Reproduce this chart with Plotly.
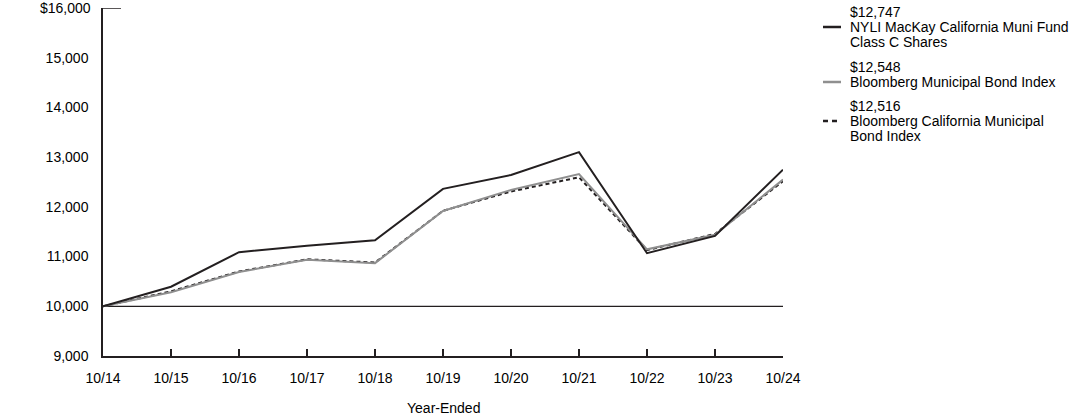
import plotly.graph_objects as go

years = ["10/14", "10/15", "10/16", "10/17", "10/18", "10/19", "10/20", "10/21", "10/22", "10/23", "10/24"]
fund = [10000, 10394, 11088, 11219, 11328, 12362, 12641, 13100, 11068, 11416, 12747]
muni = [10000, 10281, 10690, 10935, 10868, 11917, 12339, 12661, 11146, 11440, 12548]
calif = [10000, 10300, 10700, 10945, 10880, 11920, 12310, 12595, 11130, 11455, 12516]

names = [["NYLI MacKay California Muni Fund", "Class C Shares"],
         ["Bloomberg Municipal Bond Index"],
         ["Bloomberg California Municipal", "Bond Index"]]
colors = ["#231f20", "#8f8f8f", "#231f20"]
dashes = ["solid", "solid", "4px,3px"]
series = [fund, muni, calif]

yticks = [9000, 10000, 11000, 12000, 13000, 14000, 15000]
ytext = ["9,000", "10,000", "11,000", "12,000", "13,000", "14,000", "15,000"]
ytop_val, ytop_text = 16000, "$16,000"

W, H = 1092, 417
L, R, T, B = 103, 309, 8, 61
PW, PH = W - L - R, H - T - B

def px(x):
    return (x - L) / PW

def py(y):
    return 1 - (y - T) / PH

fig = go.Figure()
for i in [2, 1, 0]:
    fig.add_trace(go.Scatter(x=list(range(len(years))), y=series[i], mode="lines",
                             line=dict(color=colors[i], width=2, dash=dashes[i]),
                             showlegend=False, hoverinfo="skip"))

fam = "Liberation Sans, Arial, sans-serif"
font = dict(family=fam, size=14, color="#000000")

fig.update_layout(
    width=W, height=H,
    margin=dict(l=L, r=R, t=T, b=B),
    paper_bgcolor="white", plot_bgcolor="white",
    font=font,
    xaxis=dict(range=[0, 10], tickmode="array", tickvals=list(range(len(years))), ticktext=years,
               showgrid=False, zeroline=False, showline=True, linecolor="#231f20", linewidth=1.5,
               ticks="inside", ticklen=7, tickcolor="#231f20", tickwidth=1.5,
               tickfont=font, automargin=False, ticklabelstandoff=8),
    yaxis=dict(range=[9000, 16000], tickmode="array", tickvals=yticks, ticktext=ytext,
               showgrid=False, zeroline=False, showline=True, linecolor="#231f20", linewidth=1.5,
               ticks="", ticklabelstandoff=10, tickfont=font, automargin=False),
)

fig.add_annotation(xref="paper", yref="y", x=px(93), y=ytop_val, xanchor="right", yanchor="middle",
                   showarrow=False, text=ytop_text, font=font)

fig.add_annotation(xref="paper", yref="paper", x=px(443), y=py(408), xanchor="center", yanchor="middle",
                   showarrow=False, text="Year-Ended", font=font)

fig.add_shape(type="line", xref="x", yref="y", x0=0, x1=10, y0=10000, y1=10000,
              line=dict(color="#231f20", width=1.2), layer="below")
fig.add_shape(type="line", xref="paper", yref="y", x0=0, x1=18 / PW, y0=ytop_val, y1=ytop_val,
              line=dict(color="#231f20", width=1.5))

finals = [fund[-1], muni[-1], calif[-1]]
legend_y = [12, 67, 106]
for i in range(3):
    lines = ["${:,}".format(finals[i])] + names[i]
    for k, t in enumerate(lines):
        fig.add_annotation(xref="paper", yref="paper", x=px(848), y=py(legend_y[i] + 15 * k),
                           xanchor="left", yanchor="middle", align="left", showarrow=False,
                           text=t, font=font)
    yp = py(legend_y[i] + 15)
    fig.add_shape(type="line", xref="paper", yref="paper", x0=px(823), x1=px(841),
                  y0=yp, y1=yp, line=dict(color=colors[i], width=2.5,
                                          dash="5px,4px" if i == 2 else "solid"))

fig.write_html("out.html")
